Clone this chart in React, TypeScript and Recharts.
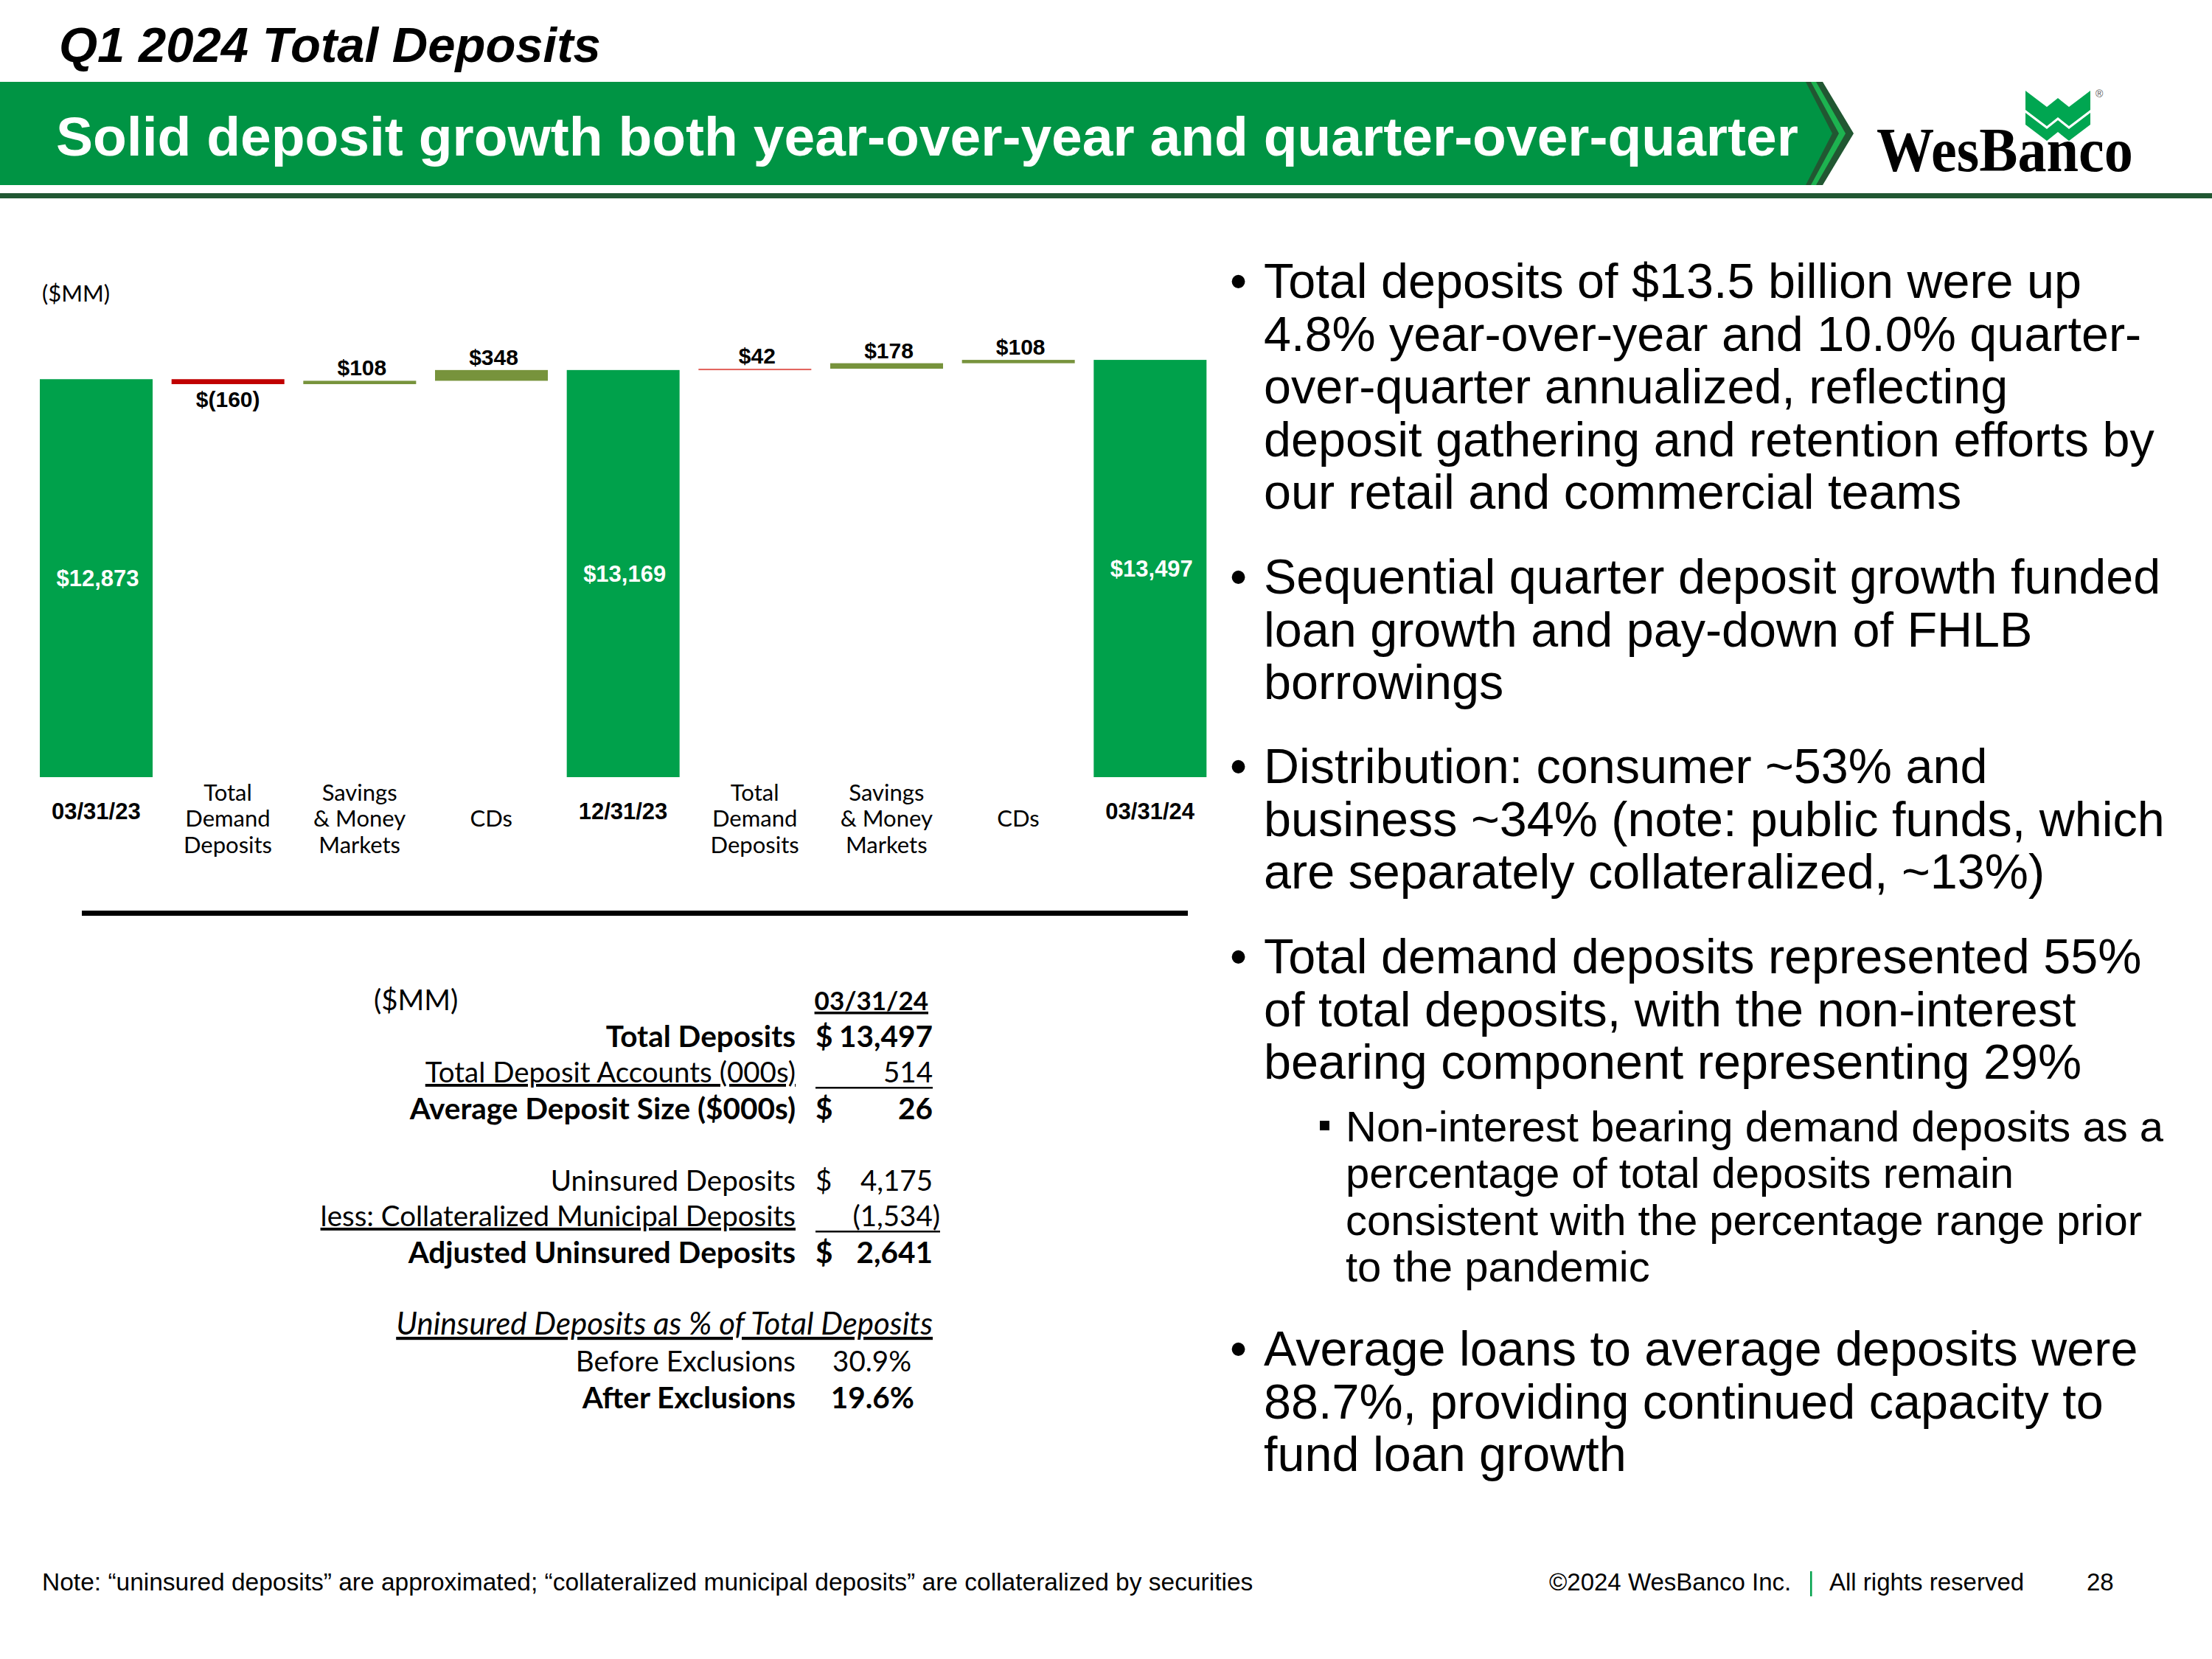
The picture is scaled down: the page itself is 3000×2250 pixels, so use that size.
import React from "react";
import { BarChart, Bar, XAxis, YAxis } from "recharts";

// waterfall steps, Q1'23 -> Q4'23 -> Q1'24 ($MM)
const categories = [
  "03/31/23",
  "Total\nDemand\nDeposits",
  "Savings\n& Money\nMarkets",
  "CDs",
  "12/31/23",
  "Total\nDemand\nDeposits",
  "Savings\n& Money\nMarkets",
  "CDs",
  "03/31/24",
];
const amounts = [12873, -160, 108, 348, 13169, 42, 178, 108, 13497];
const stepKinds = ["total", "drop", "gain", "gain", "total", "demand", "gain", "gain", "total"];

const COLORS: Record<string, string> = {
  total: "#00A14B",
  drop: "#C00000",
  gain: "#77933C",
  demand: "#E2615A",
  banner: "#009444",
  dark: "#215732",
};

const ARIAL = "'Liberation Sans', Arial, Helvetica, sans-serif";
const CALIBRI = "Lato, 'Open Sans', sans-serif";

// invisible base + visible step for each column
let running = 0;
const chartData = categories.map((name, i) => {
  const amt = amounts[i];
  const kind = stepKinds[i];
  let base = 0;
  let step = amt;
  if (kind === "total") {
    running = amt;
  } else if (amt < 0) {
    base = running + amt;
    step = -amt;
    running += amt;
  } else {
    base = running;
    running += amt;
  }
  return { name, base, step, amt, kind };
});

function fmt(v: number) {
  return v < 0 ? `$(${Math.abs(v)})` : `$${v.toLocaleString("en-US")}`;
}

function StepShape(props: any) {
  const { x, y, width, height, payload } = props;
  const h = Math.max(height, 2);
  const cx = x + width / 2;
  let label;
  if (payload.kind === "total") {
    label = (
      <text x={cx + 2} y={y + height / 2 + 11} textAnchor="middle" fill="#fff" fontFamily={ARIAL} fontWeight="bold" fontSize={31}>
        {fmt(payload.amt)}
      </text>
    );
  } else if (payload.amt < 0) {
    label = (
      <text x={cx} y={y + h + 31} textAnchor="middle" fill="#000" fontFamily={ARIAL} fontWeight="bold" fontSize={30}>
        {fmt(payload.amt)}
      </text>
    );
  } else {
    label = (
      <text x={cx + 3} y={y - 7} textAnchor="middle" fill="#000" fontFamily={ARIAL} fontWeight="bold" fontSize={30}>
        {fmt(payload.amt)}
      </text>
    );
  }
  return (
    <g>
      <rect x={x} y={y} width={width} height={h} fill={COLORS[payload.kind]} />
      {label}
    </g>
  );
}

function CategoryTick(props: any) {
  const { x, y, payload } = props;
  const lines = String(payload.value).split("\n");
  if (lines.length === 1 && /\d/.test(lines[0])) {
    return (
      <text x={x} y={y + 57} textAnchor="middle" fontFamily={ARIAL} fontWeight="bold" fontSize={31} fill="#000">
        {lines[0]}
      </text>
    );
  }
  const mid = (lines.length - 1) / 2;
  return (
    <g>
      {lines.map((l, i) => (
        <text key={i} x={x} y={y + 67 + (i - mid) * 35.5} textAnchor="middle" fontFamily={CALIBRI} fontSize={31} fill="#000">
          {l}
        </text>
      ))}
    </g>
  );
}

const bullets = [
  { top: 404, lines: ["Total deposits of $13.5 billion were up", "4.8% year-over-year and 10.0% quarter-", "over-quarter annualized, reflecting", "deposit gathering and retention efforts by", "our retail and commercial teams"] },
  { top: 805, lines: ["Sequential quarter deposit growth funded", "loan growth and pay-down of FHLB", "borrowings"] },
  { top: 1062, lines: ["Distribution: consumer ~53% and", "business ~34% (note: public funds, which", "are separately collateralized, ~13%)"] },
  { top: 1320, lines: ["Total demand deposits represented 55%", "of total deposits, with the non-interest", "bearing component representing 29%"] },
  { top: 1852, lines: ["Average loans to average deposits were", "88.7%, providing continued capacity to", "fund loan growth"] },
];
const subBullet = ["Non-interest bearing demand deposits as a", "percentage of total deposits remain", "consistent with the percentage range prior", "to the pandemic"];

function Slide() {
  const T = (p: any) => <text fontFamily={CALIBRI} fontSize={38.5} fill="#000" {...p} />;
  const B = (p: any) => <text fontFamily={CALIBRI} fontSize={40.5} fontWeight="bold" fill="#000" {...p} />;
  const labelX = 1079;
  const dollarX = 1106;
  const valX = 1265;
  return (
    <svg width={3000} height={2250} style={{ position: "absolute", left: 0, top: 0 }}>
      {/* header */}
      <text x={80} y={84} fontFamily={ARIAL} fontWeight="bold" fontStyle="italic" fontSize={67} fill="#000">
        Q1 2024 Total Deposits
      </text>
      <polygon points="0,111 2472,111 2514,181 2472,251 0,251" fill={COLORS.dark} />
      <polygon points="0,111 2463,111 2503,181 2463,251 0,251" fill="#1DB350" />
      <polygon points="0,111 2456,111 2494,181 2456,251 0,251" fill={COLORS.dark} />
      <polygon points="0,111 2449,111 2485,181 2449,251 0,251" fill={COLORS.banner} />
      <text x={76} y={211} fontFamily={ARIAL} fontWeight="bold" fontSize={75} fill="#fff">
        Solid deposit growth both year-over-year and quarter-over-quarter
      </text>
      <rect x={0} y={262} width={3000} height={7} fill={COLORS.dark} />
      {/* logo */}
      <g transform="translate(2747,123)" fill="#00A651">
        <polygon points="0,0 29,22 44,10 59,22 88,0 88,26 59,48 44,36 29,48 0,26" />
        <polygon points="0,30 29,52 44,40 59,52 88,30 88,46 59,68 44,56 29,68 0,46" />
      </g>
      <text x={2842} y={132} fontFamily={ARIAL} fontSize={14} fill="#555">®</text>
      <text x={2545} y={232} fontFamily="'Liberation Serif', 'DejaVu Serif', serif" fontWeight="bold" fontSize={84} fill="#000" textLength={348} lengthAdjust="spacingAndGlyphs">
        WesBanco
      </text>

      {/* chart unit + separator */}
      <text x={57} y={409} fontFamily={CALIBRI} fontSize={31} fill="#000">($MM)</text>
      <rect x={111} y={1235} width={1500} height={7} fill="#000" />

      {/* table */}
      <T x={507} y={1370}>($MM)</T>
      <B x={1259} y={1370} textAnchor="end" fontSize={35} textDecoration="underline">03/31/24</B>
      <B x={labelX} y={1420} textAnchor="end">Total Deposits</B>
      <B x={dollarX} y={1420}>$</B>
      <B x={valX} y={1420} textAnchor="end">13,497</B>
      <T x={labelX} y={1468} textAnchor="end" textDecoration="underline">Total Deposit Accounts (000s)</T>
      <T x={valX} y={1468} textAnchor="end">514</T>
      <rect x={dollarX} y={1474} width={valX - dollarX} height={2.5} fill="#000" />
      <B x={labelX} y={1518} textAnchor="end">Average Deposit Size ($000s)</B>
      <B x={dollarX} y={1518}>$</B>
      <B x={valX} y={1518} textAnchor="end">26</B>
      <T x={labelX} y={1615} textAnchor="end">Uninsured Deposits</T>
      <T x={dollarX} y={1615}>$</T>
      <T x={valX} y={1615} textAnchor="end">4,175</T>
      <T x={labelX} y={1663} textAnchor="end" textDecoration="underline">less: Collateralized Municipal Deposits</T>
      <T x={valX + 10} y={1663} textAnchor="end">(1,534)</T>
      <rect x={dollarX} y={1669} width={valX + 10 - dollarX} height={2.5} fill="#000" />
      <B x={labelX} y={1713} textAnchor="end">Adjusted Uninsured Deposits</B>
      <B x={dollarX} y={1713}>$</B>
      <B x={valX} y={1713} textAnchor="end">2,641</B>
      <T x={valX} y={1810} textAnchor="end" fontSize={42} fontStyle="italic" textDecoration="underline">Uninsured Deposits as % of Total Deposits</T>
      <T x={labelX} y={1860} textAnchor="end">Before Exclusions</T>
      <T x={1236} y={1860} textAnchor="end">30.9%</T>
      <B x={labelX} y={1910} textAnchor="end">After Exclusions</B>
      <B x={1240} y={1910} textAnchor="end">19.6%</B>

      {/* commentary */}
      {bullets.map((b, bi) => (
        <g key={bi}>
          <text x={1668} y={b.top} fontFamily={ARIAL} fontSize={66} fill="#000">•</text>
          {b.lines.map((l, li) => (
            <text key={li} x={1714} y={b.top + li * 71.6} fontFamily={ARIAL} fontSize={66.5} fill="#000">
              {l}
            </text>
          ))}
        </g>
      ))}
      <rect x={1790} y={1520} width={13} height={13} fill="#000" />
      {subBullet.map((l, li) => (
        <text key={li} x={1825} y={1548 + li * 63.3} fontFamily={ARIAL} fontSize={58} fill="#000">
          {l}
        </text>
      ))}

      {/* footer */}
      <text x={57} y={2157} fontFamily={ARIAL} fontSize={33.5} fill="#000">
        Note: “uninsured deposits” are approximated; “collateralized municipal deposits” are collateralized by securities
      </text>
      <text x={2101} y={2157} fontFamily={ARIAL} fontSize={33} fill="#000">©2024 WesBanco Inc.</text>
      <rect x={2455} y={2131} width={2.5} height={34} fill="#00A14B" />
      <text x={2481} y={2157} fontFamily={ARIAL} fontSize={33} fill="#000">All rights reserved</text>
      <text x={2830} y={2157} fontFamily={ARIAL} fontSize={33} fill="#000">28</text>
    </svg>
  );
}

export default function App() {
  return (
    <div style={{ position: "absolute", left: 0, top: 0, width: 3000, height: 2250, background: "#fff", overflow: "hidden" }}>
      <Slide />
      <div style={{ position: "absolute", left: 0, top: 380 }}>
        <BarChart width={1680} height={820} data={chartData} margin={{ top: 87, right: 31, bottom: 26, left: 41 }}>
          <XAxis dataKey="name" axisLine={false} tickLine={false} tickSize={0} tickMargin={0} interval={0} height={120} tick={<CategoryTick />} />
          <YAxis hide domain={[0, 14000]} />
          <Bar dataKey="base" stackId="w" fill="none" barSize={153} isAnimationActive={false} />
          <Bar dataKey="step" stackId="w" barSize={153} isAnimationActive={false} shape={<StepShape />} />
        </BarChart>
      </div>
    </div>
  );
}
